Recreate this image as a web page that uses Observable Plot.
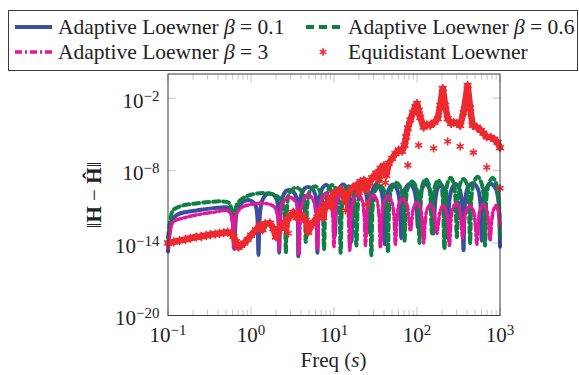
<!DOCTYPE html>
<html><head><meta charset="utf-8">
<script src="https://cdn.jsdelivr.net/npm/d3@7"></script>
<script src="https://cdn.jsdelivr.net/npm/@observablehq/plot@0.6"></script>
<style>
body{margin:0;background:#fff;}
#wrap{width:579px;height:375px;position:relative;overflow:hidden;background:#fff}
#legend{height:72px}
</style></head><body><div id="wrap"><div id="legend"></div><div id="chart"></div></div>
<script>
// Series as [log10(freq), log10(error)] pairs
const beta01 = [
 [-1.0,-14.7],[-0.975,-12.9],[-0.95,-12.1],[-0.9,-11.7],[-0.8,-11.45],[-0.65,-11.3],[-0.5,-11.15],[-0.35,-11.05],[-0.27,-11.1],[-0.235,-11.6],[-0.215,-12.5],[-0.2,-14.5],
 [-0.185,-12.2],[-0.16,-11.1],[-0.1,-10.6],[-0.05,-10.45],[0.0,-10.5],[0.05,-10.8],[0.075,-11.7],[0.09,-15.0],
 [0.105,-11.8],[0.13,-10.6],[0.18,-10.0],[0.22,-9.9],[0.27,-10.0],[0.31,-10.4],[0.33,-11.3],[0.34,-14.8],
 [0.355,-11.4],[0.38,-10.2],[0.42,-9.7],[0.46,-9.6],[0.51,-9.75],[0.545,-10.2],[0.562,-11.2],[0.57,-15.1],
 [0.585,-11.0],[0.61,-9.9],[0.65,-9.45],[0.69,-9.35],[0.74,-9.5],[0.775,-10.0],[0.792,-11.0],[0.80,-14.8],
 [0.82,-10.6],[0.85,-9.6],[0.905,-9.2],[0.96,-9.6],[0.99,-10.6],[1.01,-13.4],
 [1.03,-10.55],[1.06,-9.55],[1.11,-9.15],[1.16,-9.55],[1.19,-10.55],[1.21,-13.9],
 [1.23,-10.5],[1.26,-9.5],[1.315,-9.1],[1.37,-9.5],[1.40,-10.5],[1.42,-13.1],
 [1.44,-10.5],[1.47,-9.5],[1.515,-9.1],[1.56,-9.5],[1.59,-10.5],[1.61,-14.1],
 [1.63,-10.55],[1.66,-9.55],[1.71,-9.15],[1.76,-9.55],[1.79,-10.55],[1.81,-13.6],
 [1.83,-10.5],[1.86,-9.5],[1.91,-9.1],[1.96,-9.5],[1.99,-10.5],[2.01,-12.7],
 [2.03,-10.5],[2.06,-9.5],[2.105,-9.1],[2.15,-9.5],[2.18,-10.5],[2.20,-13.2],
 [2.22,-10.55],[2.245,-9.55],[2.285,-9.15],[2.325,-9.55],[2.35,-10.55],[2.37,-13.6],
 [2.39,-10.5],[2.42,-9.5],[2.465,-9.1],[2.51,-9.5],[2.54,-10.5],[2.56,-14.6],
 [2.58,-10.45],[2.61,-9.45],[2.67,-9.05],[2.73,-9.45],[2.76,-10.45],[2.78,-13.8],
 [2.80,-10.5],[2.83,-9.5],[2.89,-9.1],[2.95,-9.5],[2.98,-10.5],[3.0,-14.3]
];
const beta06 = [
 [-1.0,-13.6],[-0.975,-12.2],[-0.94,-11.3],[-0.85,-10.95],[-0.7,-10.75],[-0.5,-10.6],[-0.35,-10.55],[-0.27,-10.65],[-0.235,-11.2],[-0.22,-12.0],[-0.21,-13.6],
 [-0.195,-11.8],[-0.17,-10.8],[-0.1,-10.3],[0.0,-10.0],[0.15,-9.85],[0.28,-10.0],[0.36,-10.4],[0.395,-11.2],[0.41,-12.2],[0.42,-14.8],
 [0.435,-11.0],[0.46,-9.9],[0.54,-9.4],[0.62,-9.8],[0.645,-10.8],[0.66,-13.9],
 [0.68,-10.8],[0.71,-9.7],[0.77,-9.3],[0.83,-9.7],[0.86,-10.8],[0.88,-14.5],
 [0.90,-10.6],[0.93,-9.6],[0.98,-9.2],[1.03,-9.6],[1.06,-10.6],[1.08,-14.8],
 [1.10,-10.7],[1.13,-9.7],[1.175,-9.3],[1.22,-9.7],[1.25,-10.7],[1.27,-14.2],
 [1.29,-10.7],[1.315,-9.7],[1.36,-9.3],[1.405,-9.7],[1.43,-10.7],[1.45,-15.0],
 [1.47,-10.6],[1.50,-9.6],[1.55,-9.2],[1.60,-9.6],[1.63,-10.6],[1.65,-14.8],
 [1.67,-10.4],[1.70,-9.4],[1.75,-9.0],[1.80,-9.4],[1.83,-10.4],[1.85,-13.8],
 [1.87,-10.3],[1.895,-9.3],[1.94,-8.9],[1.985,-9.3],[2.01,-10.3],[2.03,-14.0],
 [2.05,-10.1],[2.07,-9.1],[2.105,-8.7],[2.14,-9.1],[2.16,-10.1],[2.18,-13.2],
 [2.20,-10.2],[2.22,-9.2],[2.255,-8.8],[2.29,-9.2],[2.31,-10.2],[2.33,-14.5],
 [2.35,-10.0],[2.37,-9.0],[2.405,-8.6],[2.44,-9.0],[2.46,-10.0],[2.48,-13.5],
 [2.50,-10.1],[2.52,-9.1],[2.56,-8.7],[2.60,-9.1],[2.62,-10.1],[2.64,-14.0],
 [2.66,-9.9],[2.69,-8.9],[2.73,-8.5],[2.77,-8.9],[2.80,-9.9],[2.82,-14.2],
 [2.84,-10.0],[2.87,-9.0],[2.91,-8.6],[2.95,-9.0],[2.98,-10.0],[3.0,-13.5]
];
const beta3 = [
 [-1.0,-14.5],[-0.97,-12.8],[-0.93,-12.2],[-0.8,-11.9],[-0.6,-11.6],[-0.45,-11.45],[-0.3,-11.3],[-0.25,-11.5],[-0.225,-12.3],[-0.21,-14.4],
 [-0.195,-12.4],[-0.17,-11.5],[-0.1,-11.0],[0.0,-10.8],[0.1,-10.7],[0.2,-10.75],[0.28,-11.0],[0.315,-11.6],[0.33,-12.4],[0.34,-14.6],
 [0.355,-11.8],[0.38,-10.7],[0.46,-10.2],[0.54,-10.6],[0.565,-11.6],[0.58,-14.9],
 [0.60,-11.5],[0.63,-10.45],[0.69,-10.0],[0.75,-10.45],[0.78,-11.5],[0.80,-14.5],
 [0.82,-11.4],[0.85,-10.35],[0.90,-9.9],[0.95,-10.35],[0.98,-11.4],[1.0,-14.3],
 [1.02,-11.4],[1.045,-10.35],[1.095,-9.9],[1.145,-10.35],[1.17,-11.4],[1.19,-14.6],
 [1.21,-11.4],[1.235,-10.4],[1.285,-9.95],[1.335,-10.4],[1.36,-11.4],[1.38,-14.2],
 [1.40,-11.5],[1.425,-10.45],[1.47,-10.0],[1.515,-10.45],[1.54,-11.5],[1.56,-14.4],
 [1.58,-11.6],[1.605,-10.55],[1.65,-10.1],[1.695,-10.55],[1.72,-11.6],[1.74,-14.1],
 [1.76,-11.8],[1.785,-10.75],[1.83,-10.3],[1.875,-10.75],[1.90,-11.8],[1.92,-13.0],
 [1.94,-12.0],[1.96,-11.05],[2.0,-10.6],[2.04,-11.05],[2.06,-12.0],[2.08,-14.0],
 [2.10,-12.2],[2.12,-11.25],[2.16,-10.8],[2.20,-11.25],[2.22,-12.2],[2.24,-13.2],
 [2.26,-12.2],[2.28,-11.35],[2.315,-10.9],[2.35,-11.35],[2.37,-12.2],[2.39,-14.2],
 [2.41,-12.1],[2.43,-11.15],[2.47,-10.7],[2.51,-11.15],[2.53,-12.1],[2.55,-13.6],
 [2.57,-12.3],[2.59,-11.35],[2.635,-10.9],[2.68,-11.35],[2.70,-12.3],[2.72,-14.1],
 [2.74,-12.2],[2.76,-11.25],[2.80,-10.8],[2.84,-11.25],[2.86,-12.2],[2.88,-13.8],
 [2.90,-12.2],[2.92,-11.3],[2.95,-10.9],[2.98,-11.4],[3.0,-12.5]
];
const equidistant = [
 [-1.0,-14.0],[-0.93,-13.9],[-0.86,-13.8],[-0.79,-13.7],[-0.73,-13.6],[-0.66,-13.5],[-0.6,-13.45],[-0.54,-13.38],[-0.49,-13.3],[-0.43,-13.25],[-0.38,-13.2],[-0.33,-13.15],[-0.28,-13.1],[-0.24,-13.2],[-0.21,-13.45],[-0.18,-13.9],[-0.15,-14.35],[-0.12,-14.2],[-0.08,-14.0],[-0.04,-13.7],
 [0.0,-13.35],[0.06,-12.9],[0.11,-12.5],[0.14,-12.9],[0.17,-12.4],[0.23,-12.35],[0.27,-12.8],[0.3,-13.5],[0.33,-13.0],[0.36,-12.6],[0.4,-12.3],[0.42,-12.8],[0.44,-12.0],[0.48,-11.7],[0.51,-11.45],[0.55,-11.9],[0.6,-11.6],
 [0.66,-12.1],[0.69,-13.1],[0.72,-12.6],[0.75,-12.3],[0.8,-11.85],[0.84,-11.3],[0.87,-11.9],[0.9,-10.8],[0.95,-10.4],[0.97,-11.0],[0.99,-9.9],[1.04,-9.7],[1.08,-9.6],[1.12,-10.0],[1.14,-10.6],[1.17,-9.9],[1.22,-9.46],[1.27,-9.2],[1.3,-9.8],[1.32,-8.9],
 [1.36,-8.8],[1.39,-9.6],[1.43,-9.0],[1.46,-8.6],[1.51,-8.2],[1.54,-8.8],[1.56,-7.8],[1.6,-7.6],[1.63,-8.4],[1.66,-7.4],[1.7,-7.0],[1.74,-6.6],[1.78,-6.3],[1.82,-6.4],[1.85,-5.9],[1.87,-5.2],[1.89,-4.5],[1.92,-3.8],[1.95,-3.2],[1.98,-2.7],[2.0,-2.45],
 [2.02,-3.0],[2.04,-3.6],[2.08,-4.4],[2.12,-4.2],[2.16,-4.25],[2.21,-4.0],[2.25,-3.7],[2.28,-2.6],[2.31,-1.2],[2.34,-2.6],[2.37,-3.7],[2.41,-4.1],[2.44,-4.0],[2.48,-4.1],[2.52,-4.25],[2.56,-3.2],[2.61,-0.95],[2.64,-2.8],[2.67,-4.25],
 [2.72,-4.4],[2.77,-4.67],[2.8,-4.9],[2.84,-5.2],[2.89,-5.25],[2.93,-5.4],[2.97,-5.66],[3.0,-6.1]
];
const equidistantScatter = [
 [2.02,-5.9],[2.2,-6.16],[2.37,-5.58],[2.52,-6.0],[2.68,-6.5],[2.84,-7.73],[3.0,-9.46],[1.89,-7.56],[1.14,-11.3],[1.39,-10.8],[0.45,-13.2],[1.62,-9.0]
];
const xMajorTicks = [0.1, 1, 10, 100, 1000];
const xMinorTicks = [0.2,0.3,0.4,0.5,0.6,0.7,0.8,0.9,2,3,4,5,6,7,8,9,20,30,40,50,60,70,80,90,200,300,400,500,600,700,800,900];
const yMajorTicks = [1e-20, 1e-14, 1e-8, 1e-2];
const legendLabels = ["Adaptive Loewner β = 0.1","Adaptive Loewner β = 0.6","Adaptive Loewner β = 3","Equidistant Loewner"];
const colors = {b01:"#3a4d9f", b06:"#0e8043", b3:"#e4169a", eq:"#ec2a2f"};

const toRows = pts => pts.map(([lf, le]) => ({freq: 10 ** lf, err: 10 ** le}));
const fmt = d => "10^" + Math.round(Math.log10(d));
const tickGray = "#c4c4c4";
const font = '"Liberation Serif", "Times New Roman", serif';

const chart = Plot.plot({
  width: 579, height: 303,
  marginLeft: 167.5, marginRight: 79.5, marginTop: 1.5, marginBottom: 60,
  style: {fontFamily: font, fontSize: "21px", color: "#222", background: "white", overflow: "visible"},
  x: {type: "log", domain: [0.1, 1000]},
  y: {type: "log", domain: [1e-20, 1]},
  marks: [
    Plot.axisX({anchor: "bottom", ticks: xMinorTicks, tickSize: -5, tickFormat: () => "", stroke: tickGray, label: null}),
    Plot.axisX({anchor: "top", ticks: xMinorTicks, tickSize: -5, tickFormat: () => "", stroke: tickGray, label: null}),
    Plot.axisX({anchor: "bottom", ticks: xMajorTicks, tickSize: -8, tickFormat: () => "", stroke: tickGray, label: null}),
    Plot.axisX({anchor: "top", ticks: xMajorTicks, tickSize: -8, tickFormat: () => "", stroke: tickGray, label: null}),
    Plot.axisY({anchor: "left", ticks: yMajorTicks, tickSize: -8, tickFormat: () => "", stroke: tickGray, label: null}),
    Plot.axisY({anchor: "right", ticks: yMajorTicks, tickSize: -8, tickFormat: () => "", stroke: tickGray, label: null}),
    Plot.axisX({anchor: "bottom", ticks: xMajorTicks, tickSize: 0, tickPadding: 12, tickFormat: fmt, label: null, fontSize: 21}),
    Plot.axisY({anchor: "left", ticks: yMajorTicks, tickSize: 0, tickPadding: 8.5, tickFormat: fmt, label: null, fontSize: 21, dy: 3}),
    Plot.line(toRows(beta01), {x: "freq", y: "err", stroke: colors.b01, strokeWidth: 4, curve: "catmull-rom"}),
    Plot.line(toRows(beta06), {x: "freq", y: "err", stroke: colors.b06, strokeWidth: 4, strokeDasharray: "6,4", curve: "catmull-rom"}),
    Plot.line(toRows(beta3), {x: "freq", y: "err", stroke: colors.b3, strokeWidth: 3.5, strokeDasharray: "7,3,2,3", curve: "catmull-rom"}),
    Plot.line(toRows(equidistant), {x: "freq", y: "err", stroke: colors.eq, strokeWidth: 6.5}),
    Plot.dot(toRows(equidistant), {x: "freq", y: "err", symbol: "asterisk", r: 4.3, stroke: colors.eq, strokeWidth: 1.6}),
    Plot.dot(toRows(equidistantScatter), {x: "freq", y: "err", symbol: "asterisk", r: 3.8, stroke: colors.eq, strokeWidth: 1.6}),
    Plot.frame({stroke: "#3a3a3a", strokeWidth: 1})
  ]
});
document.getElementById("chart").appendChild(chart);
const svg = d3.select(chart.tagName.toLowerCase() === "svg" ? chart : chart.querySelector("svg"));

// superscript exponents in tick labels
svg.selectAll('g[aria-label$="tick label"] text').each(function () {
  const t = this.textContent;
  if (!t.includes("^")) return;
  const [b, e] = t.split("^");
  const s = d3.select(this);
  s.text(b);
  s.append("tspan").attr("dy", -7).attr("font-size", 15).text(e.replace("-", "\u2212"));
});

// axis titles
const xt = svg.append("text").attr("x", 333.5).attr("y", 295).attr("text-anchor", "middle")
  .attr("font-family", font).attr("font-size", 21).attr("fill", "#222");
xt.append("tspan").text("Freq (");
xt.append("tspan").attr("font-style", "italic").text("s");
xt.append("tspan").text(")");
const yt = svg.append("text").attr("transform", "translate(101,123) rotate(-90)").attr("text-anchor", "middle")
  .attr("font-family", font).attr("font-size", 21).attr("fill", "#222");
yt.append("tspan").text("\u2016");
yt.append("tspan").attr("font-weight", "bold").text("H");
yt.append("tspan").text(" \u2212 ");
yt.append("tspan").attr("font-weight", "bold").text("\u0124");
yt.append("tspan").text("\u2016");

// legend
const lg = d3.select("#legend").append("svg").attr("width", 579).attr("height", 72);
lg.append("rect").attr("x", 8.5).attr("y", 10.5).attr("width", 569).attr("height", 60)
  .attr("fill", "white").attr("stroke", "#3a3a3a");
const addText = (x, y, label) => {
  const parts = label.split("β");
  const t = lg.append("text").attr("x", x).attr("y", y).attr("fill", "#222")
    .attr("font-family", font).attr("font-size", 21.5);
  t.append("tspan").text(parts[0]);
  if (parts.length > 1) {
    t.append("tspan").attr("font-style", "italic").text("β");
    t.append("tspan").text(parts[1]);
  }
};
lg.append("line").attr("x1", 15).attr("x2", 52).attr("y1", 27).attr("y2", 27).attr("stroke", colors.b01).attr("stroke-width", 4);
addText(58, 34, legendLabels[0]);
lg.append("line").attr("x1", 306).attr("x2", 340).attr("y1", 27).attr("y2", 27).attr("stroke", colors.b06).attr("stroke-width", 4).attr("stroke-dasharray", "8,5");
addText(348, 34, legendLabels[1]);
lg.append("line").attr("x1", 15).attr("x2", 52).attr("y1", 52).attr("y2", 52).attr("stroke", colors.b3).attr("stroke-width", 3.5).attr("stroke-dasharray", "7,3,2,3");
addText(58, 59, legendLabels[2]);
lg.append("path").attr("transform", "translate(323,52)").attr("d", d3.symbol(d3.symbolAsterisk, 40)()).attr("stroke", colors.eq).attr("stroke-width", 1.6).attr("fill", "none");
addText(348, 59, legendLabels[3]);
</script></body></html>
